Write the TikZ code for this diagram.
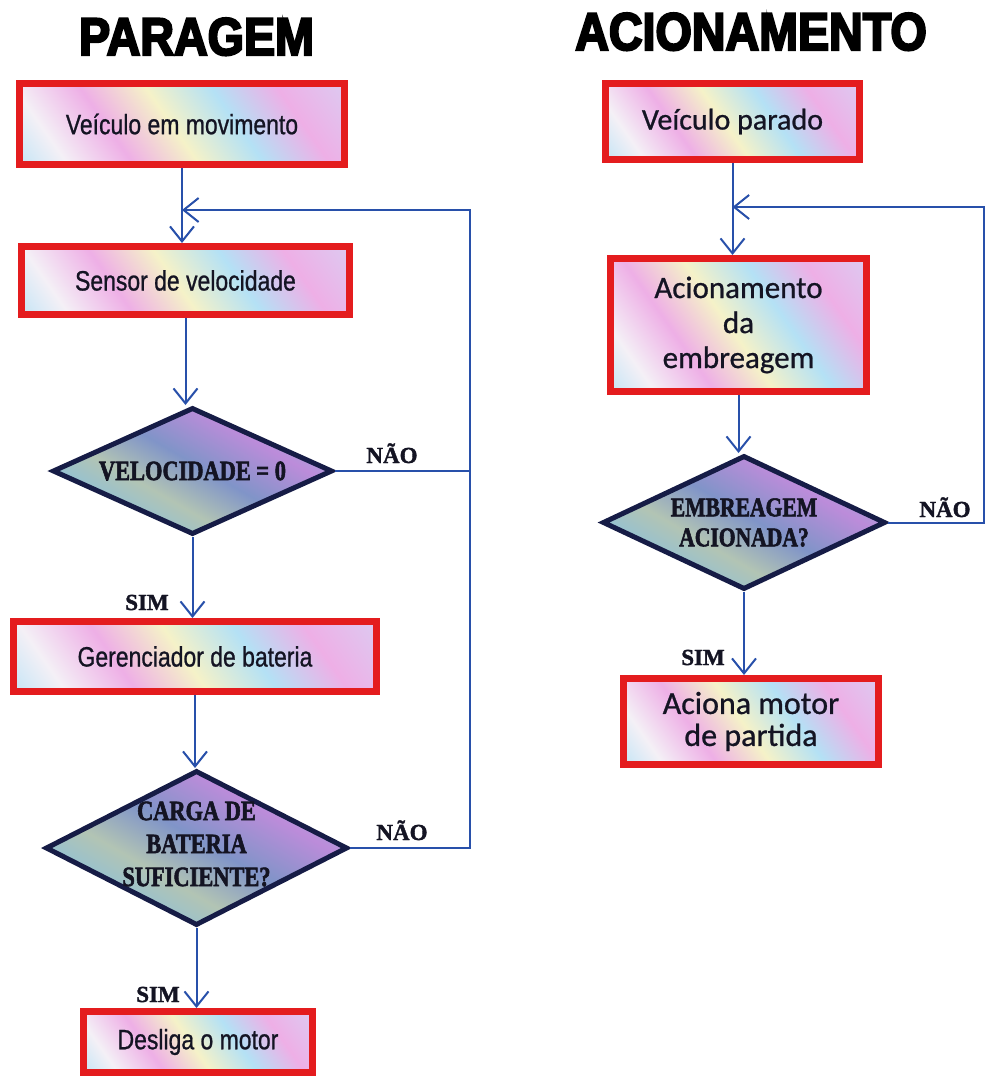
\documentclass[tikz,border=0pt]{standalone}
\usepackage{fontspec}
\usetikzlibrary{shapes.geometric,arrows.meta}
\newfontfamily\titlefont{Liberation Sans}[FakeStretch=0.88,FakeBold=4]
\newfontfamily\narrowfont{Liberation Sans}[FakeStretch=0.82,FakeBold=0.8]
\newfontfamily\calfont{Carlito}[FakeBold=0.8]
\newfontfamily\dfont{Liberation Serif}[FakeStretch=0.8,FakeBold=2]
\newfontfamily\lblfont{Liberation Serif}[FakeBold=1.5]
\definecolor{boxred}{RGB}{228,28,30}
\definecolor{flowblue}{RGB}{40,80,170}
\definecolor{navy}{RGB}{22,28,70}
\definecolor{ink}{RGB}{20,20,35}
\definecolor{ipink}{RGB}{238,175,230}
\definecolor{icyan}{RGB}{180,225,245}
\definecolor{iyel}{RGB}{245,242,200}
\definecolor{ilav}{RGB}{222,200,240}
\definecolor{iwhite}{RGB}{244,240,246}
\definecolor{dslate}{RGB}{150,160,205}
\definecolor{dviolet}{RGB}{188,140,218}
\definecolor{dcyan}{RGB}{140,192,218}
\definecolor{dsage}{RGB}{178,196,180}
\definecolor{dblue}{RGB}{128,148,200}
\pgfdeclarehorizontalshading{iris}{100bp}{color(0bp)=(ipink); color(12bp)=(icyan); color(24bp)=(iwhite); color(36bp)=(ipink); color(48bp)=(iyel); color(60bp)=(icyan); color(72bp)=(ipink); color(84bp)=(ilav); color(100bp)=(icyan)}
\pgfdeclarehorizontalshading{dmix}{100bp}{color(0bp)=(dslate); color(14bp)=(dviolet); color(28bp)=(dcyan); color(40bp)=(dsage); color(52bp)=(dblue); color(66bp)=(dviolet); color(80bp)=(dcyan); color(100bp)=(dslate)}
\begin{document}
\begin{tikzpicture}[x=1pt,y=-1pt,
  procbox/.style={rectangle,draw=boxred,line width=7pt,shading=iris,shading angle=35,inner sep=0pt,text=ink,align=center},
  decbox/.style={diamond,draw=navy,line width=5pt,shading=dmix,shading angle=60,inner sep=0pt},
  dtext/.style={font=\dfont\bfseries\fontsize{28}{33}\selectfont,text=ink,align=center},
  lbl/.style={font=\lblfont\bfseries\fontsize{23}{24}\selectfont,text=ink,anchor=base},
  ttl/.style={font=\titlefont\bfseries\fontsize{53}{60}\selectfont,text=black,anchor=base},
  conn/.style={draw=flowblue,line width=2pt},
  arr/.style={conn,-{Straight Barb[length=15pt,width=24pt]}}]
\useasboundingbox (0,0) rectangle (986,1079);
\fill[white] (0,0) rectangle (986,1079);

% titles
\node[ttl] (t1) at (196.5,55) {PARAGEM};
\node[ttl] (t2) at (751,50) {ACIONAMENTO};

% left column
\node[procbox,minimum width=325pt,minimum height=81pt,font=\narrowfont\fontsize{28}{32}\selectfont] (b1) at (182,124) {Veículo em movimento};
\node[procbox,minimum width=328pt,minimum height=68pt,font=\narrowfont\fontsize{28}{32}\selectfont] (b2) at (185.5,280.5) {Sensor de velocidade};
\node[decbox,minimum width=280pt,minimum height=127pt,label={[dtext]center:VELOCIDADE = 0}] (d1) at (192.5,471) {};
\node[procbox,minimum width=363pt,minimum height=70pt,font=\narrowfont\fontsize{28}{32}\selectfont] (b3) at (195,656.5) {Gerenciador de bateria};
\node[decbox,minimum width=302pt,minimum height=155pt,label={[dtext,yshift=4pt]center:CARGA DE\\BATERIA\\SUFICIENTE?}] (d2) at (196.5,848) {};
\node[procbox,minimum width=229pt,minimum height=61pt,font=\narrowfont\fontsize{28}{32}\selectfont] (b4) at (198,1042) {Desliga o motor};

% right column
\node[procbox,minimum width=254pt,minimum height=76pt,font=\calfont\fontsize{30}{35}\selectfont] (rb1) at (732.5,121.5) {Veículo parado};
\node[procbox,minimum width=256pt,minimum height=133pt,font=\calfont\fontsize{31}{35}\selectfont] (rb2) at (738.5,325) {Acionamento\\da\\embreagem};
\node[decbox,minimum width=283pt,minimum height=134pt,label={[dtext,font=\dfont\bfseries\fontsize{27}{30}\selectfont]center:EMBREAGEM\\ACIONADA?}] (d3) at (744,522.5) {};
\node[procbox,minimum width=255pt,minimum height=86pt,font=\calfont\fontsize{32}{32}\selectfont] (rb3) at (751,721.5) {Aciona motor\\de partida};

% connectors left
\coordinate (r1) at (470,210);
\coordinate (m1) at (b1.south |- r1);
\draw[arr] (b1.south) -- (b1.south |- b2.north);
\draw[arr] (b2.south) -- (b2.south |- d1.north);
\draw[arr] (d1.south) -- (d1.south |- b3.north);
\draw[arr] (b3.south) -- (b3.south |- d2.north);
\draw[arr] (d2.south) -- (d2.south |- b4.north);
\draw[conn] (d1.east) -- (d1.east -| r1);
\draw[arr] (d2.east) -| (r1) -- (m1);

% connectors right
\coordinate (r2) at (984,207);
\coordinate (m2) at (rb1.south |- r2);
\draw[arr] (rb1.south) -- (rb1.south |- rb2.north);
\draw[arr] (rb2.south) -- (rb2.south |- d3.north);
\draw[arr] (d3.south) -- (d3.south |- rb3.north);
\draw[arr] (d3.east) -| (r2) -- (m2);

% labels
\node[lbl] (n1) at (392,463) {NÃO};
\node[lbl] (n2) at (402,840) {NÃO};
\node[lbl] (n3) at (945,517) {NÃO};
\node[lbl] (s1) at (147,610) {SIM};
\node[lbl] (s2) at (158,1002) {SIM};
\node[lbl] (s3) at (703,665) {SIM};
\end{tikzpicture}
\end{document}
